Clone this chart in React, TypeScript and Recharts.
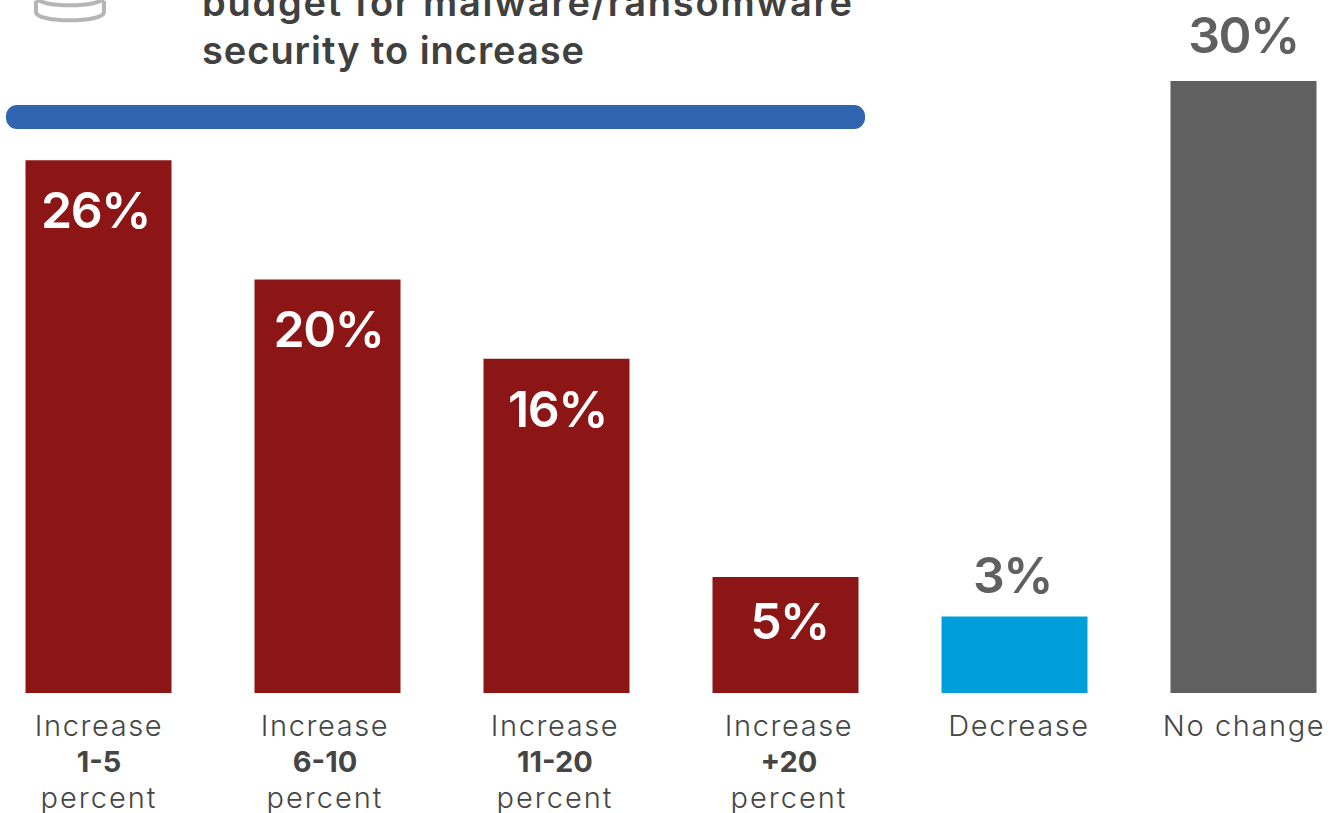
import React from "react";
import { BarChart, Bar, XAxis, YAxis, Cell, LabelList } from "recharts";

const FONT = "Inter, 'Open Sans', sans-serif";

const categories = ["inc1", "inc2", "inc3", "inc4", "dec", "none"];
const shares = [26, 20, 16, 5, 3, 30];
const tickTop = ["Increase", "Increase", "Increase", "Increase", "Decrease", "No change"];
const tickBold = ["1-5", "6-10", "11-20", "+20", "", ""];
const tickBottom = ["percent", "percent", "percent", "percent", "", ""];
const barColors = ["#8C1515", "#8C1515", "#8C1515", "#8C1515", "#009FDB", "#606060"];
const titleLines = ["budget for malware/ransomware", "security to increase"];

// bars sit on a floor slightly below zero, so short bars keep some height
const FLOOR = -0.85;

// hand-set text offsets, the captions are not quite centred under their bars
const TICK_SHIFT = [1, -2, -1, 4, 5, 1];
const LABEL_SHIFT = [-3, 1, 1, 4, -2, 0];

const rows = categories.map((key, i) => ({ key, share: shares[i] }));

function CategoryTick({ x, y, index }: any) {
  const cx = x + TICK_SHIFT[index];
  return (
    <text textAnchor="middle" fontFamily={FONT} fontSize={29} fill="#454545">
      <tspan x={cx} y={y + 35} fontWeight={300} letterSpacing={1.6}>{tickTop[index]}</tspan>
      <tspan x={cx} y={y + 71} fontWeight={700}>{tickBold[index]}</tspan>
      <tspan x={cx} y={y + 107} fontWeight={300} letterSpacing={2}>{tickBottom[index]}</tspan>
    </text>
  );
}

function ShareLabel({ x, y, width, index }: any) {
  const value = shares[index];
  const inside = value > 3 && value < 30;
  const offset = value > 5 ? 68 : 62;
  return (
    <text
      x={x + width / 2 + LABEL_SHIFT[index]}
      y={inside ? y + offset : y - (value > 3 ? 28 : 24)}
      textAnchor="middle"
      fontFamily={FONT}
      fontSize={50}
      fontWeight={600}
      letterSpacing={-1.5}
      fill={inside ? "#ffffff" : "#606060"}
    >
      {value}%
    </text>
  );
}

export default function App() {
  return (
    <div style={{ position: "absolute", left: 0, top: 0, width: 1339, height: 813, overflow: "hidden", background: "#fff" }}>
      <svg width={1339} height={813} style={{ position: "absolute", left: 0, top: 0 }}>
        {/* database icon, running off the top edge */}
        <g fill="none" stroke="#b5b5b5" strokeWidth={4}>
          <path d="M36 1 V12 C36 23 104 23 104 12 V1" />
          <path d="M36 -3 C36 8 104 8 104 -3" />
        </g>
        <g fontFamily={FONT} fontSize={38} fontWeight={600} fill="#404040">
          <text x={202} y={16} textLength={650}>{titleLines[0]}</text>
          <text x={202} y={64} textLength={382}>{titleLines[1]}</text>
        </g>
        <rect x={6} y={105} width={859} height={24} rx={11} fill="#3164AE" />
      </svg>
      <div style={{ position: "absolute", left: 0, top: 0 }}>
        <BarChart
          width={1339}
          height={813}
          data={rows}
          margin={{ top: 81, right: -18.5, bottom: 0, left: -16.5 }}
          barSize={146}
        >
          <XAxis
            dataKey="key"
            height={120}
            axisLine={false}
            tickLine={false}
            interval={0}
            tick={<CategoryTick />}
          />
          <YAxis hide domain={[FLOOR, 30]} />
          <Bar dataKey={(d: any) => [FLOOR, d.share]} isAnimationActive={false}>
            {rows.map((r, i) => (
              <Cell key={r.key} fill={barColors[i]} />
            ))}
            <LabelList content={<ShareLabel />} />
          </Bar>
        </BarChart>
      </div>
    </div>
  );
}
